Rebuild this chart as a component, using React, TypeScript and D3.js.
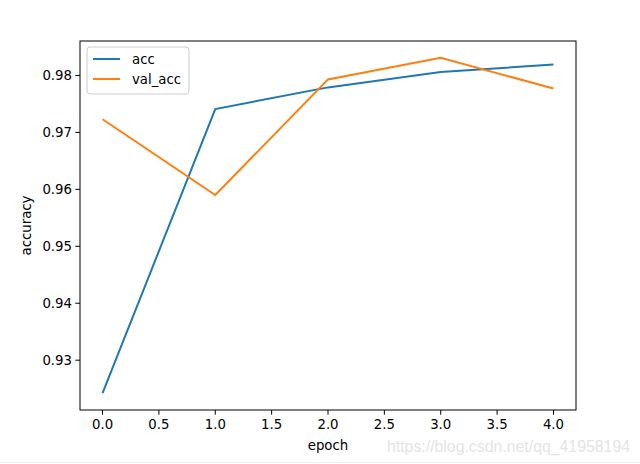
import React from 'react';
import * as d3 from 'd3';

const epochs = [0, 1, 2, 3, 4];
const acc = [0.9242, 0.9741, 0.9779, 0.9806, 0.9819];
const valAcc = [0.9723, 0.9590, 0.9793, 0.9831, 0.9777];
const xTicks = [0, 0.5, 1, 1.5, 2, 2.5, 3, 3.5, 4];
const yTicks = [0.93, 0.94, 0.95, 0.96, 0.97, 0.98];

const W = 640;
const H = 464;
const dms = { left: 80, right: 576, top: 41, bottom: 410 };
const font = 'DejaVu Sans, sans-serif';

const App = () => {
  const xScale = d3.scaleLinear().domain([-0.2, 4.2]).range([dms.left, dms.right]);
  const lo = d3.min([...acc, ...valAcc]) as number;
  const hi = d3.max([...acc, ...valAcc]) as number;
  const pad = (hi - lo) * 0.05;
  const yScale = d3.scaleLinear().domain([lo - pad, hi + pad]).range([dms.bottom, dms.top]);

  const line = d3.line<number>()
    .x((_, i) => xScale(epochs[i]))
    .y((d) => yScale(d));

  const series = [
    { name: 'acc', values: acc, color: '#1f77b4' },
    { name: 'val_acc', values: valAcc, color: '#ff7f0e' },
  ];

  return (
    <svg width={W} height={H} style={{ position: 'absolute', left: 0, top: 0 }} fontFamily={font}>
      <rect width={W} height={H} fill="#fff" />
      {series.map((s) => (
        <path key={s.name} d={line(s.values) as string} fill="none" stroke={s.color} strokeWidth={2} />
      ))}
      <rect
        x={dms.left}
        y={dms.top}
        width={dms.right - dms.left}
        height={dms.bottom - dms.top}
        fill="none"
        stroke="#000"
        strokeWidth={1}
      />
      {xTicks.map((t) => (
        <g key={t} transform={`translate(${xScale(t)}, ${dms.bottom})`}>
          <line y1={0} y2={4.7} stroke="#000" />
          <text y={19} textAnchor="middle" fontSize={13.3} fill="#000">{t.toFixed(1)}</text>
        </g>
      ))}
      {yTicks.map((t) => (
        <g key={t} transform={`translate(${dms.left}, ${yScale(t)})`}>
          <line x1={0} x2={-4.7} stroke="#000" />
          <text x={-8} dy="0.35em" textAnchor="end" fontSize={13.3} fill="#000">{t.toFixed(2)}</text>
        </g>
      ))}
      <text x={(dms.left + dms.right) / 2} y={450} textAnchor="middle" fontSize={13.3}>epoch</text>
      <text
        transform={`translate(31, ${(dms.top + dms.bottom) / 2}) rotate(-90)`}
        textAnchor="middle"
        fontSize={13.3}
      >
        accuracy
      </text>
      <g transform="translate(87, 47)">
        <rect width={102} height={47} rx={3} fill="#fff" fillOpacity={0.8} stroke="#ccc" />
        {series.map((s, i) => (
          <g key={s.name} transform={`translate(0, ${12 + i * 20})`}>
            <line x1={6} x2={33} stroke={s.color} strokeWidth={2} />
            <text x={45} dy="0.35em" fontSize={13.3}>{s.name}</text>
          </g>
        ))}
      </g>
      <text
        x={387}
        y={452}
        fontSize={16}
        textLength={243}
        lengthAdjust="spacingAndGlyphs"
        fontFamily="Arial, Liberation Sans, sans-serif"
        fill="#e4e4e4"
      >
        https://blog.csdn.net/qq_41958194
      </text>
      <line x1={0} x2={W} y1={462.5} y2={462.5} stroke="#eee" />
    </svg>
  );
};

export default App;
